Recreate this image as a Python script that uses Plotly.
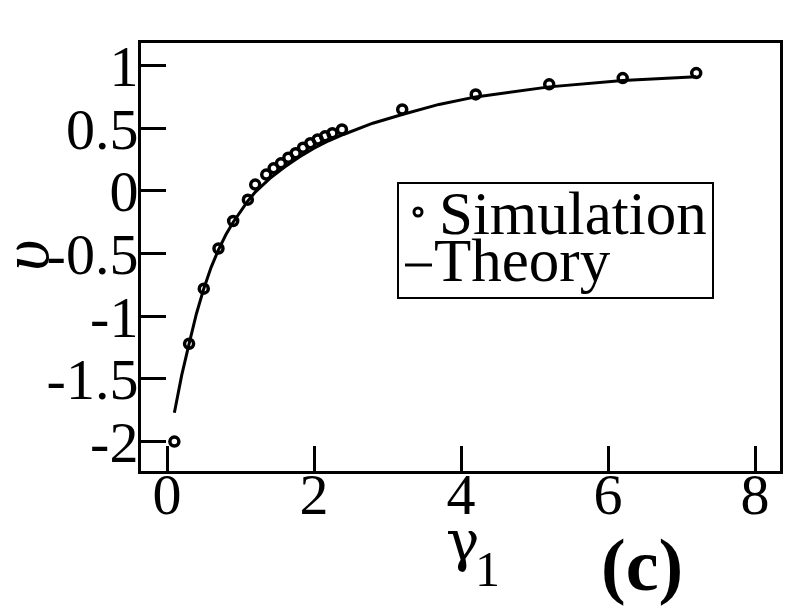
import plotly.graph_objects as go

# Simulation data
sim_x = [0.1, 0.3, 0.5, 0.7, 0.9, 1.1, 1.2, 1.35, 1.45, 1.55, 1.65, 1.75, 1.85,
         1.95, 2.05, 2.15, 2.25, 2.38, 3.2, 4.2, 5.2, 6.2, 7.2]
sim_y = [-2.0, -1.22, -0.78, -0.46, -0.24, -0.07, 0.05, 0.13, 0.18, 0.22, 0.265,
         0.30, 0.345, 0.38, 0.41, 0.435, 0.46, 0.49, 0.65, 0.77, 0.85, 0.90, 0.94]

# Theory curve
th_x = [0.1, 0.2, 0.3, 0.4, 0.5, 0.6, 0.7, 0.8, 0.9, 1.0, 1.1, 1.2, 1.4, 1.6,
        1.8, 2.0, 2.2, 2.4, 2.8, 3.2, 3.7, 4.2, 5.2, 6.2, 7.2]
th_y = [-1.77, -1.47, -1.22, -0.98, -0.78, -0.61, -0.47, -0.35, -0.25, -0.16,
        -0.08, -0.01, 0.10, 0.19, 0.27, 0.34, 0.40, 0.45, 0.54, 0.61, 0.69,
        0.75, 0.83, 0.88, 0.91]

x_ticks = [0, 2, 4, 6, 8]
y_ticks = [-2, -1.5, -1, -0.5, 0, 0.5, 1]
y_tick_labels = ["-2", "-1.5", "-1", "-0.5", "0", "0.5", "1"]

FONT = "Liberation Serif, Times New Roman, serif"
W, H = 792, 612
L, R, T, B = 141, 780, 43, 471   # plot frame in page pixels
OFF = 8                           # page body margin


def px(xp):
    return (xp - L) / (R - L)


def py(yp):
    return (B - yp) / (B - T)


fig = go.Figure()
fig.add_trace(go.Scatter(x=th_x, y=th_y, mode="lines", name="Theory",
                         line=dict(color="black", width=3)))
fig.add_trace(go.Scatter(x=sim_x, y=sim_y, mode="markers", name="Simulation",
                         marker=dict(symbol="circle-open", size=9, color="black",
                                     line=dict(color="black", width=3.5))))

axis_common = dict(showgrid=False, zeroline=False, showline=True, linecolor="black",
                   linewidth=3, mirror=True, ticks="inside", ticklen=25, tickwidth=3,
                   tickcolor="black", tickfont=dict(family=FONT, size=58, color="black"))

fig.update_xaxes(range=[-0.354, 8.34], tickvals=x_ticks,
                 ticktext=[str(v) for v in x_ticks], ticklabelstandoff=-30, **axis_common)
fig.update_yaxes(range=[-2.235, 1.18], tickvals=y_ticks, ticktext=y_tick_labels,
                 ticklabelstandoff=-12, **axis_common)

# legend box (drawn manually for tight line spacing)
fig.add_shape(type="rect", xref="paper", yref="paper", x0=px(398), x1=px(713),
              y0=py(298), y1=py(183), line=dict(color="black", width=2),
              fillcolor="white", layer="above")
fig.add_shape(type="circle", xref="paper", yref="paper", x0=px(414), x1=px(422),
              y0=py(216), y1=py(208), line=dict(color="black", width=3), layer="above")
fig.add_shape(type="line", xref="paper", yref="paper", x0=px(405), x1=px(432),
              y0=py(265), y1=py(265), line=dict(color="black", width=3), layer="above")
fig.add_annotation(xref="paper", yref="paper", x=px(437), y=py(213), text="Simulation",
                   showarrow=False, xanchor="left", yanchor="middle",
                   font=dict(family=FONT, size=61, color="black"))
fig.add_annotation(xref="paper", yref="paper", x=px(432), y=py(260), text="Theory",
                   showarrow=False, xanchor="left", yanchor="middle",
                   font=dict(family=FONT, size=61, color="black"))

# axis titles and panel label
fig.add_annotation(xref="paper", yref="paper", x=px(25), y=py(256), text="<i>υ</i>",
                   showarrow=False, textangle=-90, xanchor="center", yanchor="middle",
                   font=dict(family=FONT, size=68, color="black"))
fig.add_annotation(xref="paper", yref="paper", x=px(462), y=py(540), text="γ",
                   showarrow=False, xanchor="center", yanchor="middle",
                   font=dict(family="DejaVu Serif, serif", size=56, color="black"))
fig.add_annotation(xref="paper", yref="paper", x=px(488), y=py(569), text="1",
                   showarrow=False, xanchor="center", yanchor="middle",
                   font=dict(family=FONT, size=50, color="black"))
fig.add_annotation(xref="paper", yref="paper", x=px(642), y=py(565), text="<b>(c)</b>",
                   showarrow=False, xanchor="center", yanchor="middle",
                   font=dict(family=FONT, size=74, color="black"))

fig.update_layout(width=W, height=H,
                  margin=dict(l=L - OFF, r=W - (R - OFF), t=T - OFF, b=H - (B - OFF)),
                  paper_bgcolor="white", plot_bgcolor="white", showlegend=False)

fig.write_html("out.html")
